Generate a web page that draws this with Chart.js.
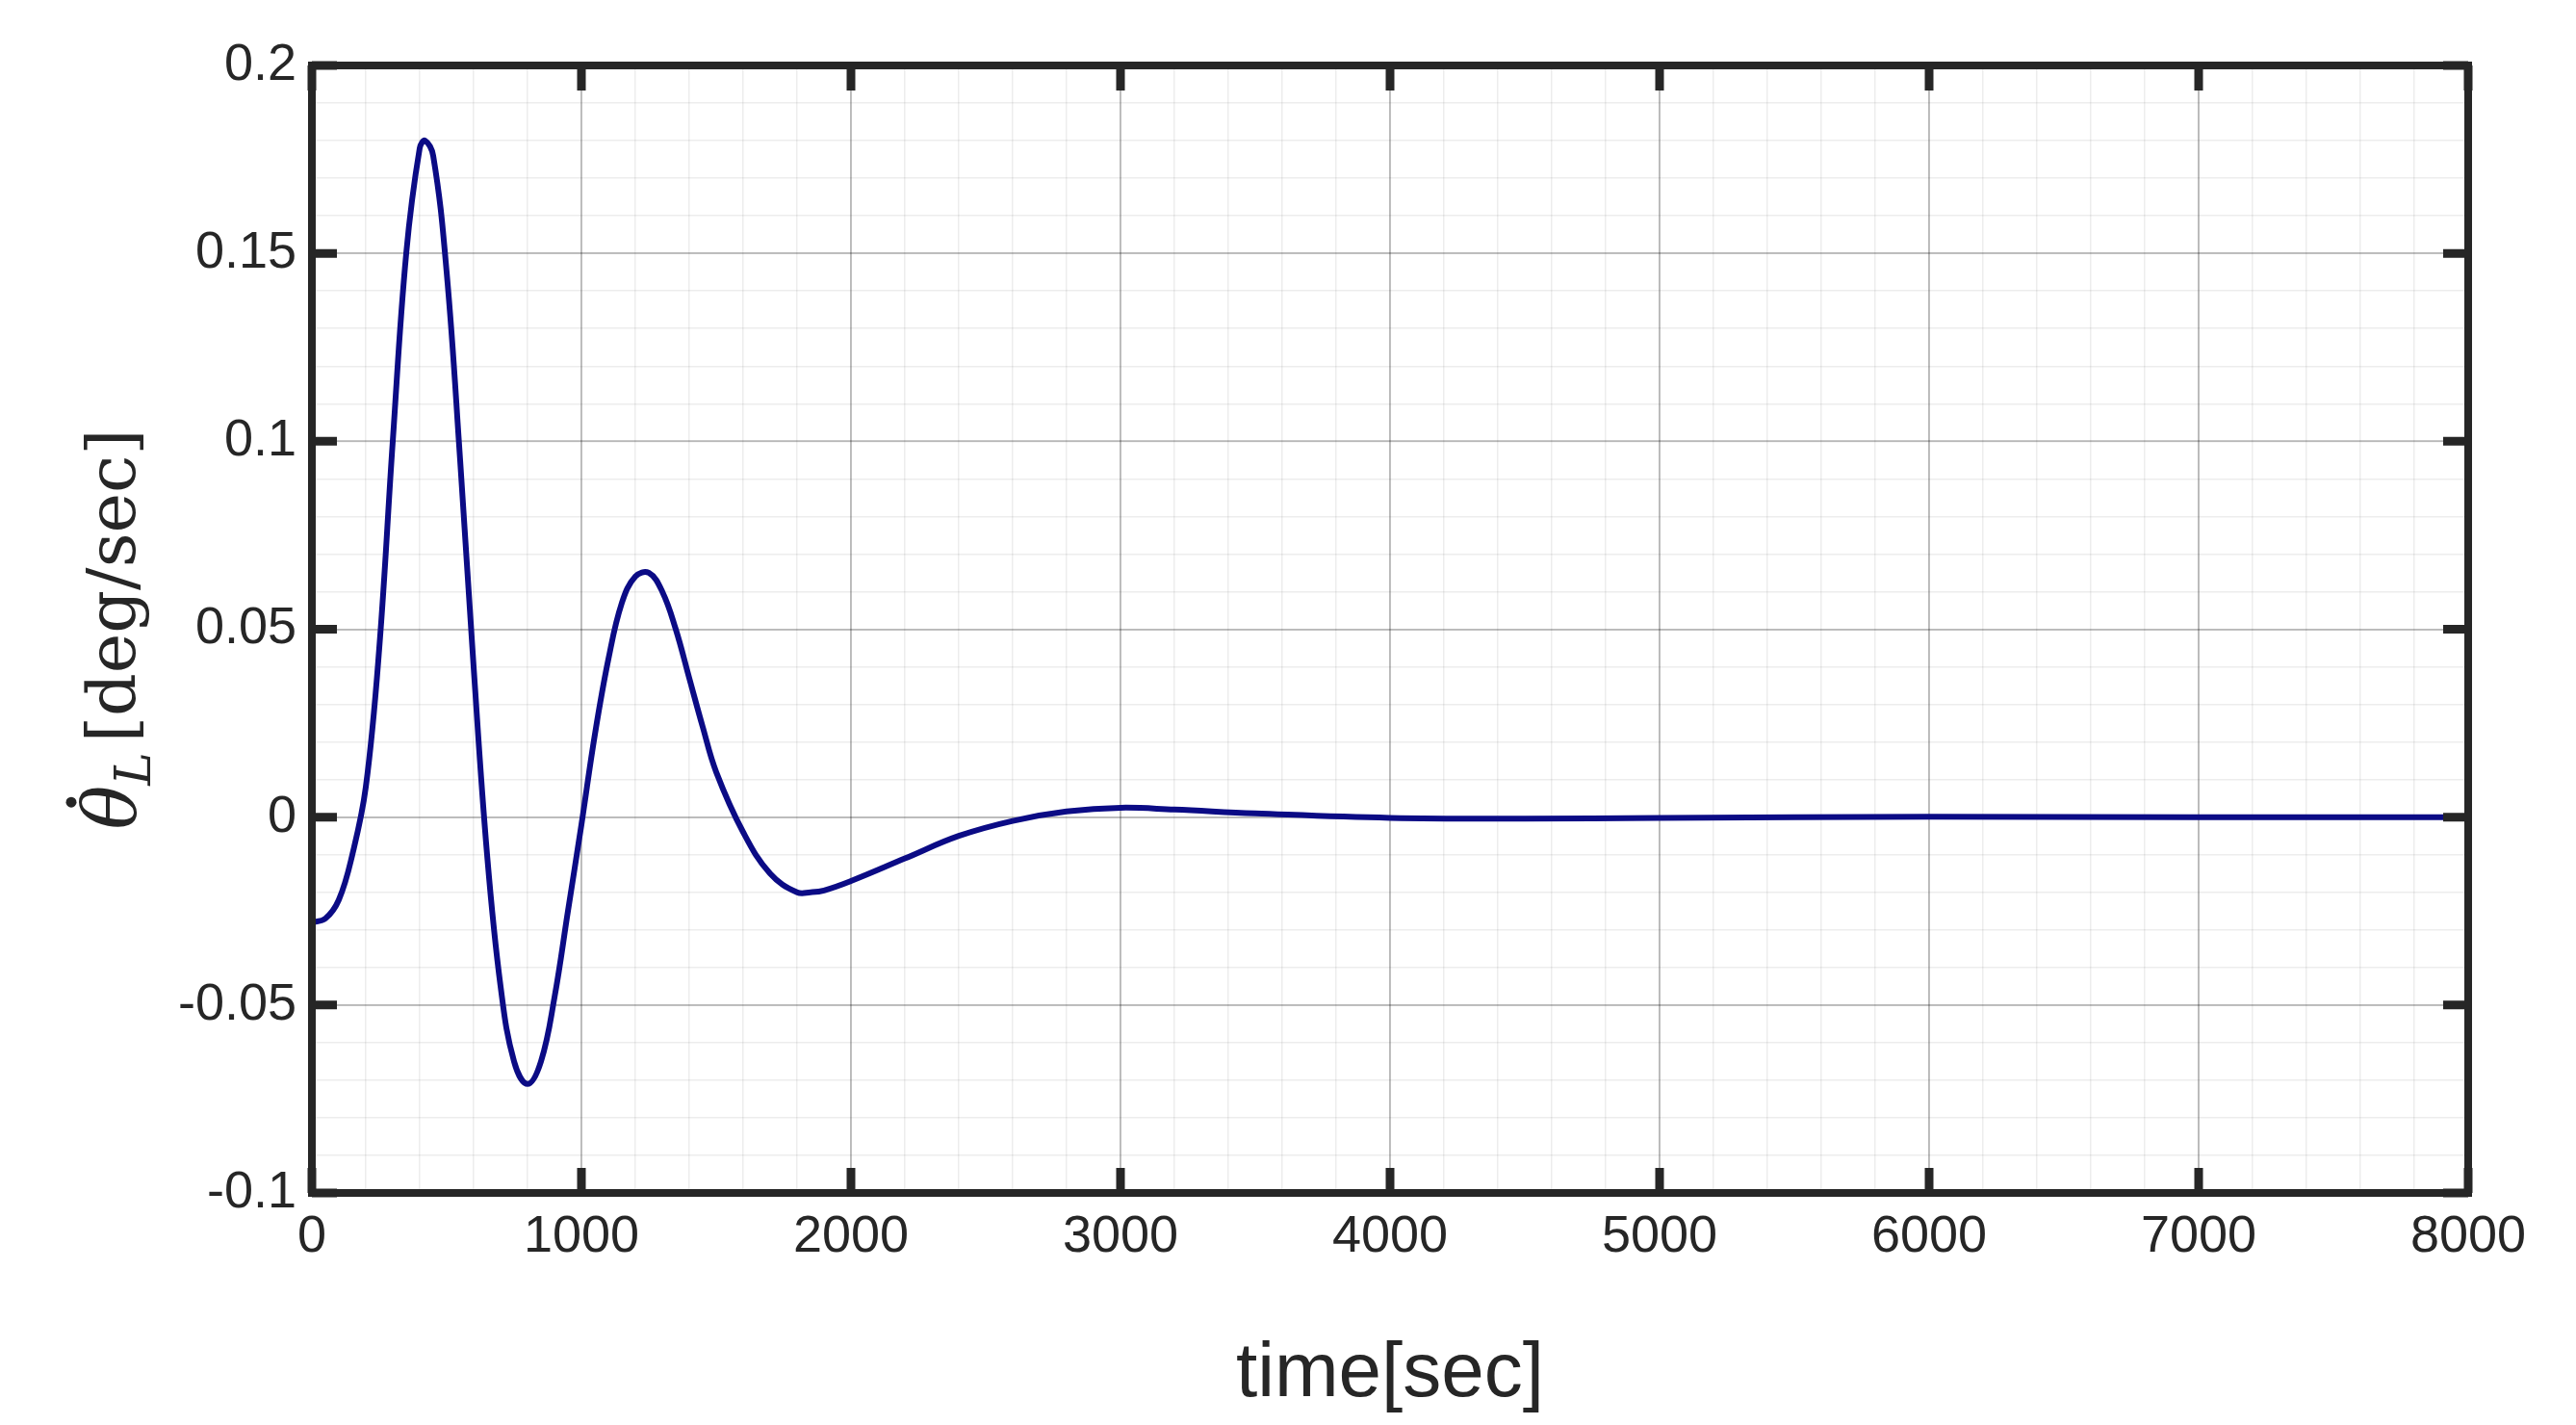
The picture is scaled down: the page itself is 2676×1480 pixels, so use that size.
<!DOCTYPE html>
<html>
<head>
<meta charset="utf-8">
<script src="https://cdn.jsdelivr.net/npm/chart.js@4"></script>
<style>
  html, body { margin: 0; padding: 0; background: #fff; }
  #wrap { width: 2676px; height: 1480px; }
</style>
</head>
<body>
<div id="wrap"><canvas id="c"></canvas></div>
<script>
// time [sec]
const times = [0, 50, 100, 150, 200, 250, 300, 350, 400, 420, 450, 500, 550, 600, 650, 700, 750, 800, 850, 900, 950, 1000,
  1050, 1100, 1150, 1200, 1250, 1300, 1350, 1400, 1450, 1500, 1600, 1700, 1800, 1850, 1900, 2000, 2200, 2400, 2600,
  2800, 3000, 3200, 3500, 4000, 4500, 5000, 6000, 7000, 8000];
// theta_L dot [deg/sec]
const rates = [-0.028, -0.027, -0.022, -0.010, 0.008, 0.045, 0.100, 0.150, 0.178, 0.180, 0.176, 0.145, 0.095, 0.040, -0.010,
  -0.045, -0.065, -0.071, -0.065, -0.048, -0.025, -0.002, 0.022, 0.042, 0.057, 0.064, 0.065, 0.060, 0.050, 0.037, 0.024,
  0.012, -0.004, -0.015, -0.020, -0.020, -0.0195, -0.017, -0.011, -0.005, -0.001, 0.0015, 0.0025, 0.002, 0.001,
  -0.0002, -0.0004, -0.0002, 0.0001, 0.0, 0.0];
const xTicks = [0, 1000, 2000, 3000, 4000, 5000, 6000, 7000, 8000];
const yTicks = [-0.1, -0.05, 0, 0.05, 0.1, 0.15, 0.2];

const ink = "#262626";

const frame = {
  id: "frame",
  afterDraw(chart) {
    const { ctx, chartArea: a, scales } = chart;
    ctx.save();
    ctx.strokeStyle = ink;
    ctx.lineWidth = 8;
    ctx.strokeRect(a.left, a.top, a.right - a.left, a.bottom - a.top);
    ctx.lineWidth = 9;
    const len = 26;
    ctx.beginPath();
    xTicks.forEach(v => {
      const px = scales.x.getPixelForValue(v);
      ctx.moveTo(px, a.bottom); ctx.lineTo(px, a.bottom - len);
      ctx.moveTo(px, a.top); ctx.lineTo(px, a.top + len);
    });
    yTicks.forEach(v => {
      const py = scales.y.getPixelForValue(v);
      ctx.moveTo(a.left, py); ctx.lineTo(a.left + len, py);
      ctx.moveTo(a.right, py); ctx.lineTo(a.right - len, py);
    });
    ctx.stroke();

    // y axis label, rotated
    ctx.fillStyle = ink;
    ctx.translate(118, (a.top + a.bottom) / 2);
    ctx.rotate(-Math.PI / 2);
    ctx.textBaseline = "alphabetic";
    const big = "italic 76px 'DejaVu Serif'";
    const sub = "italic 52px 'DejaVu Serif'";
    const reg = "70px 'DejaVu Serif'";
    ctx.font = big;
    const w1 = ctx.measureText("θ").width;
    ctx.font = sub;
    const w2 = ctx.measureText("L").width;
    ctx.font = reg;
    const rest = "[deg/sec]";
    const w3 = ctx.measureText(rest).width;
    let x = -(w1 + w2 + w3 + 10) / 2;
    ctx.font = big;
    ctx.fillText("θ", x, 22);
    ctx.beginPath();
    ctx.arc(x + w1 * 0.62, -44, 5.5, 0, Math.PI * 2);
    ctx.fill();
    x += w1;
    ctx.font = sub;
    ctx.fillText("L", x, 38); x += w2 + 10;
    ctx.font = reg;
    ctx.fillText(rest, x, 22);
    ctx.restore();
  }
};

new Chart(document.getElementById("c"), {
  type: "line",
  data: {
    datasets: [{
      data: times.map((t, i) => ({ x: t, y: rates[i] })),
      borderColor: "#0b0b85",
      borderWidth: 6,
      pointRadius: 0,
      tension: 0.4,
      fill: false
    }]
  },
  options: {
    responsive: true,
    maintainAspectRatio: false,
    animation: false,
    layout: { padding: { left: 0, top: 68, right: 112, bottom: 0 } },
    plugins: { legend: { display: false }, tooltip: { enabled: false } },
    scales: {
      xm: {
        type: "linear", position: "top", min: 0, max: 8000,
        ticks: { display: false, stepSize: 200 },
        grid: { color: "rgba(0,0,0,0.07)", lineWidth: 1.5, drawTicks: false },
        border: { display: false },
        afterFit: s => { s.height = 0; }
      },
      ym: {
        type: "linear", position: "right", min: -0.1, max: 0.2,
        ticks: { display: false, stepSize: 0.01 },
        grid: { color: "rgba(0,0,0,0.07)", lineWidth: 1.5, drawTicks: false },
        border: { display: false },
        afterFit: s => { s.width = 0; }
      },
      x: {
        type: "linear", min: 0, max: 8000,
        afterBuildTicks: s => { s.ticks = xTicks.map(v => ({ value: v })); },
        ticks: { color: ink, font: { family: "Liberation Sans", size: 54 }, padding: 14, maxRotation: 0, callback: v => String(v) },
        grid: { color: "rgba(0,0,0,0.22)", lineWidth: 2, drawTicks: false },
        border: { display: false },
        title: { display: true, text: "time[sec]", color: ink, font: { family: "Liberation Sans", size: 80 }, padding: { top: 4 } },
        afterFit: s => { s.height = 241; }
      },
      y: {
        type: "linear", min: -0.1, max: 0.2,
        afterBuildTicks: s => { s.ticks = yTicks.map(v => ({ value: v })); },
        ticks: { color: ink, font: { family: "Liberation Sans", size: 54 }, padding: 16, callback: v => String(Math.round(v * 100) / 100) },
        grid: { color: "rgba(0,0,0,0.22)", lineWidth: 2, drawTicks: false },
        border: { display: false },
        afterFit: s => { s.width = 324; }
      }
    }
  },
  plugins: [frame]
});
</script>
</body>
</html>
